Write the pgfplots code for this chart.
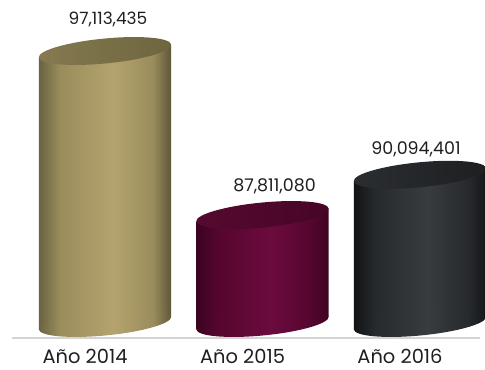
\documentclass[border=0pt]{standalone}
\usepackage{fontspec}
\setmainfont{Poppins}
\usepackage{pgfplots}
\pgfplotsset{compat=1.18}

% body and cap colours
\definecolor{gA}{HTML}{6A6240}\definecolor{gB}{HTML}{9A8D5C}
\definecolor{gC}{HTML}{B4A36D}\definecolor{gD}{HTML}{5E5638}
\definecolor{gT}{HTML}{857A50}\definecolor{gU}{HTML}{6E653F}
\definecolor{mA}{HTML}{3A0320}\definecolor{mB}{HTML}{55062E}
\definecolor{mC}{HTML}{6C0B3E}\definecolor{mD}{HTML}{3E0322}
\definecolor{mT}{HTML}{56092F}\definecolor{mU}{HTML}{460626}
\definecolor{kA}{HTML}{111315}\definecolor{kB}{HTML}{272A2D}
\definecolor{kC}{HTML}{383C3F}\definecolor{kD}{HTML}{141618}
\definecolor{kT}{HTML}{2B2E31}\definecolor{kU}{HTML}{1D1F21}

\newcommand\bodyshade[5]{\pgfdeclarehorizontalshading{#1}{100bp}{color(0bp)=(#2); color(25bp)=(#2); color(33bp)=(#3); color(53bp)=(#4); color(68bp)=(#3); color(75bp)=(#5); color(100bp)=(#5)}}
\newcommand\topshade[3]{\pgfdeclarehorizontalshading{#1}{100bp}{color(0bp)=(#2); color(25bp)=(#2); color(75bp)=(#3); color(100bp)=(#3)}}
\bodyshade{goldbody}{gA}{gB}{gC}{gD}\topshade{goldtop}{gT}{gU}
\bodyshade{maroonbody}{mA}{mB}{mC}{mD}\topshade{maroontop}{mT}{mU}
\bodyshade{darkbody}{kA}{kB}{kC}{kD}\topshade{darktop}{kT}{kU}

% tilted ellipse used for the cylinder ends
\newcommand\capmark[2]{\pgfdeclareplotmark{#1}{%
  \pgfpathellipse{\pgfpointorigin}{\pgfqpoint{66.2bp}{6.4bp}}{\pgfqpoint{-1.2bp}{12.4bp}}%
  \pgfshadepath{#2}{0}\pgfusepath{discard}}}
\capmark{goldbot}{goldbody}\capmark{goldcap}{goldtop}
\capmark{maroonbot}{maroonbody}\capmark{marooncap}{maroontop}
\capmark{darkbot}{darkbody}\capmark{darkcap}{darktop}

\pgfplotsset{
  lbl/.style n args={3}{only marks, point meta=explicit symbolic, nodes near coords,
    every node near coord/.append style={anchor=base, inner sep=0pt, font=\fontsize{#3}{#3}\selectfont,
      text=black!88, xshift=#1, yshift=#2}},
}

\begin{document}
\begin{tikzpicture}
\useasboundingbox (0,0) rectangle (485bp,370bp);
\begin{axis}[
  at={(12bp,47bp)}, anchor=south west,
  scale only axis, width=468bp, height=272bp,
  xmin=-0.5905, xmax=2.381,
  ymin=81685000, ymax=97113435,
  hide axis, clip=false,
]
\draw[black!17, line width=1.5bp] ([yshift=-15bp]rel axis cs:0,0) -- ([yshift=-15bp]rel axis cs:1,0);

% Año 2014
\addplot[lbl={-20bp}{-40bp}{19.5}, mark=goldbot] coordinates {(0,81685000) [Año 2014]};
\addplot[shading=goldbody, draw=none] coordinates {(-0.4203,81322000) (-0.4203,96750435) (0.4203,97476435) (0.4203,82048000)} -- cycle;
\addplot[lbl={3bp}{26bp}{17}, mark=goldcap] coordinates {(0,97113435) [97,113,435]};

% Año 2015
\addplot[lbl={-20bp}{-40bp}{19.5}, mark=maroonbot] coordinates {(1,81685000) [Año 2015]};
\addplot[shading=maroonbody, draw=none] coordinates {(0.5797,81322000) (0.5797,87448080) (1.4203,88174080) (1.4203,82048000)} -- cycle;
\addplot[lbl={12bp}{23bp}{17.5}, mark=marooncap] coordinates {(1,87811080) [87,811,080]};

% Año 2016
\addplot[lbl={-20bp}{-40bp}{19.5}, mark=darkbot] coordinates {(2,81685000) [Año 2016]};
\addplot[shading=darkbody, draw=none] coordinates {(1.5797,81322000) (1.5797,89731401) (2.4203,90457401) (2.4203,82048000)} -- cycle;
\addplot[lbl={-4bp}{20bp}{17.5}, mark=darkcap] coordinates {(2,90094401) [90,094,401]};
\end{axis}
\end{tikzpicture}
\end{document}
